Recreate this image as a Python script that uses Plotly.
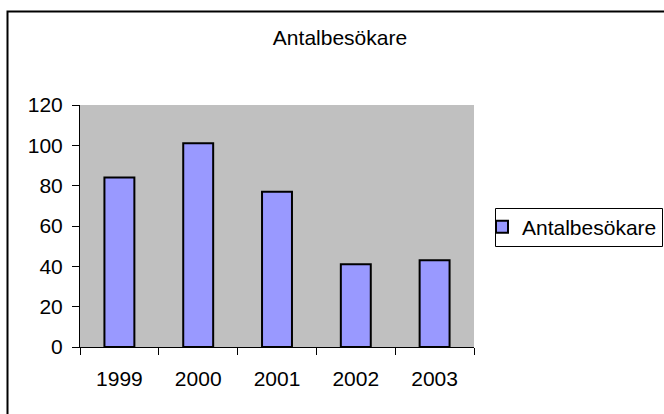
import plotly.graph_objects as go

years = ["1999", "2000", "2001", "2002", "2003"]
visitors = [84, 101, 77, 41, 43]
series_name = "Antalbesökare"
chart_title = "Antalbesökare"

FONT = "Liberation Sans, Arial, sans-serif"
FS = 21

fig = go.Figure()
fig.add_trace(go.Bar(
    x=years, y=visitors, name=series_name,
    marker=dict(color="#9999FF", line=dict(color="black", width=2)),
    showlegend=True,
))

L, R, T, B = 80, 190, 105, 67
W, H = 664, 414
pw = W - L - R
ph = H - T - B

def px_to_paper_x(px):
    return (px - L) / pw

def px_to_paper_y(py):
    return (H - B - py) / ph

fig.update_layout(
    width=W, height=H,
    margin=dict(l=L, r=R, t=T, b=B, autoexpand=False),
    paper_bgcolor="white",
    plot_bgcolor="#C0C0C0",
    font=dict(family=FONT, size=FS, color="black"),
    title=dict(text=chart_title, x=340 / W, xref="container", xanchor="center",
               y=1 - 38 / H, yref="container", yanchor="middle",
               font=dict(family=FONT, size=FS, color="black")),
    bargap=0.62,
    showlegend=True,
    legend=dict(x=px_to_paper_x(482), y=px_to_paper_y(227), xanchor="left", yanchor="middle",
                bgcolor="rgba(0,0,0,0)", borderwidth=0,
                font=dict(family=FONT, size=FS, color="black"),
                itemwidth=30),
    xaxis=dict(type="category", showgrid=False, showline=True, linecolor="black", linewidth=1,
               ticks="outside", tickson="boundaries", ticklen=7, tickcolor="black",
               ticklabelstandoff=13, zeroline=False),
    yaxis=dict(range=[0, 120], dtick=20, showgrid=False, showline=True, linecolor="black", linewidth=1,
               ticks="outside", ticklen=7, tickcolor="black", zeroline=False,
               ticklabelstandoff=5),
    shapes=[
        dict(type="rect", xref="paper", yref="paper",
             x0=px_to_paper_x(7.5), x1=px_to_paper_x(680),
             y0=px_to_paper_y(430), y1=px_to_paper_y(11.5),
             line=dict(color="black", width=2), fillcolor="rgba(0,0,0,0)", layer="below"),
        dict(type="rect", xref="paper", yref="paper",
             x0=px_to_paper_x(495.5), x1=px_to_paper_x(662.5),
             y0=px_to_paper_y(246.5), y1=px_to_paper_y(208.5),
             line=dict(color="black", width=1), fillcolor="white", layer="below"),
    ],
)

fig.write_html("out.html", config={"displayModeBar": False},
               post_script="document.body.style.margin='0';")
